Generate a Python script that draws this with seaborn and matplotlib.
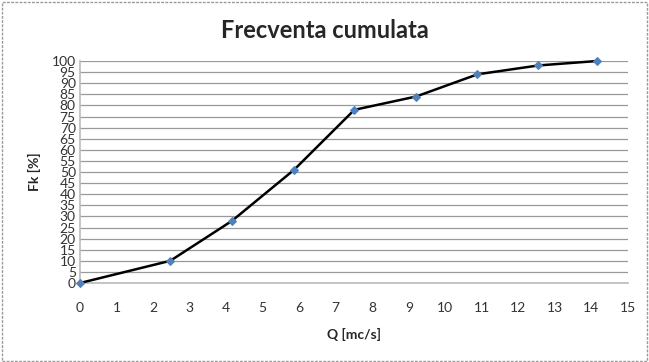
import matplotlib
matplotlib.use("Agg")
import matplotlib.pyplot as plt
import seaborn as sns
import pandas as pd
from matplotlib.patches import Rectangle

# data
q_values = [0, 2.47, 4.16, 5.86, 7.51, 9.2, 10.88, 12.55, 14.16]
fk_values = [0, 10, 28, 51, 78, 84, 94, 98, 100]
x_ticks = list(range(0, 16))
y_ticks = list(range(0, 101, 5))

df = pd.DataFrame({"Q": q_values, "Fk": fk_values})

sns.set_theme(style="white")
plt.rcParams['font.family'] = ['Lato', 'DejaVu Sans']

fig = plt.figure(figsize=(6.49, 3.62), dpi=100)
ax = fig.add_axes([0.1233, 0.2182, 0.8443, 0.6133])

# dashed frame like the spreadsheet export
fig.patch.set_facecolor("white")
fig.patches.append(Rectangle((0.003, 0.004), 0.994, 0.99, transform=fig.transFigure,
                             fill=False, edgecolor="#999999", linestyle=(0, (2, 1)),
                             linewidth=1.0))

sns.lineplot(data=df, x="Q", y="Fk", ax=ax, color="black", linewidth=1.8,
             marker="D", markersize=4.5, markerfacecolor="#4F81BD",
             markeredgecolor="#4F81BD", zorder=3, clip_on=False)

ax.set_xlim(0, 15)
ax.set_ylim(0, 100)
ax.set_xticks(x_ticks)
ax.set_yticks(y_ticks)
ax.set_xticklabels([str(t) for t in x_ticks], fontsize=10, color="#333333")
ax.set_yticklabels([str(t) for t in y_ticks], fontsize=10, color="#333333")
ax.tick_params(axis="x", direction="out", length=4, color="#aaaaaa", pad=10)
ax.tick_params(axis="y", length=0, pad=3)

ax.yaxis.grid(True, color="#999999", linewidth=0.9)
ax.xaxis.grid(False)
ax.set_axisbelow(True)

for side in ["top", "right"]:
    ax.spines[side].set_visible(False)
for side in ["left", "bottom"]:
    ax.spines[side].set_color("#bbbbbb")
    ax.spines[side].set_linewidth(1.2)

ax.set_xlabel("Q [mc/s]", fontsize=10, fontweight="bold", labelpad=10)
ax.set_ylabel("Fk [%]", fontsize=10, fontweight="bold", labelpad=8)
fig.text(0.5, 0.915, "Frecventa cumulata", ha="center", va="center",
         fontsize=17, fontweight="bold")

fig.savefig("out.png", dpi=100)
